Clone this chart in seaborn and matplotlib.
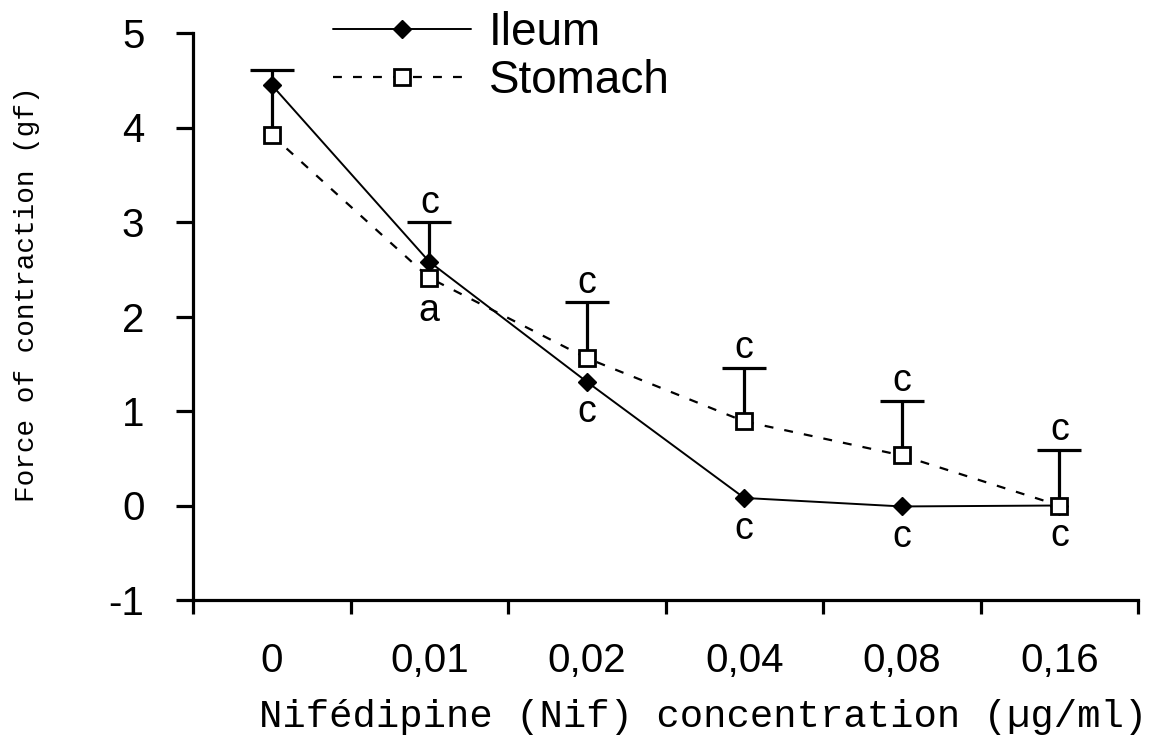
import numpy as np
import pandas as pd
import matplotlib
matplotlib.use("Agg")
import matplotlib.pyplot as plt
from matplotlib.lines import Line2D
from matplotlib.ticker import FixedLocator
import seaborn as sns

# Nifedipine concentrations (µg/ml) and mean force of contraction (gf)
concentrations = ["0", "0,01", "0,02", "0,04", "0,08", "0,16"]
ileum_force = [4.45, 2.58, 1.31, 0.08, -0.01, 0.00]
stomach_force = [3.92, 2.41, 1.56, 0.89, 0.53, 0.00]
stomach_sem = [0.69, 0.59, 0.59, 0.57, 0.58, 0.59]

# Significance letters
sig_above_stomach = ["", "c", "c", "c", "c", "c"]
sig_below_stomach = ["", "a", "", "", "", ""]
sig_below_ileum = ["", "", "c", "c", "c", "c"]

sns.set_theme(style="white")
plt.rcParams["font.family"] = ["Liberation Sans", "DejaVu Sans"]
plt.rcParams["axes.unicode_minus"] = False
plt.rcParams["text.color"] = "black"
plt.rcParams["axes.labelcolor"] = "black"
plt.rcParams["xtick.color"] = "black"
plt.rcParams["ytick.color"] = "black"

fig = plt.figure(figsize=(11.55, 7.42), dpi=100)
ax = fig.add_axes([193 / 1155, 1 - 600 / 742, 945 / 1155, 567 / 742])

pos = np.arange(len(concentrations))
df = pd.DataFrame({
    "pos": np.concatenate([pos, pos]),
    "force": ileum_force + stomach_force,
    "tissue": ["Ileum"] * len(pos) + ["Stomach"] * len(pos),
})

n_before = len(ax.lines)
sns.lineplot(
    data=df, x="pos", y="force", hue="tissue", style="tissue",
    palette={"Ileum": "black", "Stomach": "black"},
    markers={"Ileum": "D", "Stomach": "s"},
    dashes={"Ileum": "", "Stomach": (4, 5)},
    linewidth=1.4, ax=ax, zorder=3, legend=False,
)
data_lines = [l for l in ax.lines[n_before:] if len(l.get_xdata()) == len(pos)]
ileum_line, stomach_line = data_lines[0], data_lines[1]
ileum_line.set(marker="D", markersize=9, markerfacecolor="black",
               markeredgecolor="black", markeredgewidth=1)
stomach_line.set(marker="s", markersize=11, markerfacecolor="white",
                 markeredgecolor="black", markeredgewidth=2, linewidth=1.6)

# Upward-only SEM bars for the stomach series
eb = ax.errorbar(pos, stomach_force, yerr=[np.zeros(len(pos)), stomach_sem],
                 fmt="none", ecolor="black", elinewidth=2.3, capsize=16,
                 capthick=2.3, zorder=2)
eb[1][0].set_visible(False)

# Significance letters
letter_size = 27
for i in pos:
    if sig_above_stomach[i]:
        ax.text(i, stomach_force[i] + stomach_sem[i] + 0.1, sig_above_stomach[i],
                ha="center", va="baseline", fontsize=letter_size, color="black")
    if sig_below_stomach[i]:
        ax.text(i, stomach_force[i] - 0.46, sig_below_stomach[i],
                ha="center", va="baseline", fontsize=letter_size, color="black")
    if sig_below_ileum[i]:
        ax.text(i, ileum_force[i] - 0.43, sig_below_ileum[i],
                ha="center", va="baseline", fontsize=letter_size, color="black")

# Axes
ax.set_xlim(-0.5, len(pos) - 0.5)
ax.set_ylim(-1, 5)
ax.set_yticks(range(-1, 6))
ax.set_yticklabels([str(v) for v in range(-1, 6)])
ax.set_xticks(pos)
ax.set_xticklabels(concentrations)
ax.xaxis.set_minor_locator(FixedLocator(np.arange(-0.5, len(pos), 1.0)))

for side in ["top", "right"]:
    ax.spines[side].set_visible(False)
for side in ["left", "bottom"]:
    ax.spines[side].set_linewidth(2.3)
    ax.spines[side].set_color("black")

ax.tick_params(axis="y", which="major", direction="out", length=12, width=2.3,
               labelsize=29, pad=23, colors="black", left=True)
ax.tick_params(axis="x", which="major", length=0, labelsize=29, pad=30,
               colors="black")
ax.tick_params(axis="x", which="minor", direction="out", length=10, width=2.3,
               bottom=True, colors="black")
ax.grid(False)

ax.set_xlabel("Nifédipine (Nif) concentration (µg/ml)",
              family=["Liberation Mono", "DejaVu Sans Mono"], fontsize=28,
              color="black")
ax.set_ylabel("Force of contraction (gf)",
              family=["Liberation Mono", "DejaVu Sans Mono"], fontsize=20,
              color="black")
ax.xaxis.set_label_coords(0.54, -0.175)
ax.yaxis.set_label_coords(-0.162, 0.54)

handles = [
    Line2D([], [], color="black", linewidth=1.4, marker="D", markersize=9,
           markerfacecolor="black", markeredgecolor="black"),
    Line2D([], [], color="black", linewidth=1.6, linestyle=(0, (4, 5)),
           marker="s", markersize=11, markerfacecolor="white",
           markeredgecolor="black", markeredgewidth=2),
]
fig.legend(handles, ["Ileum", "Stomach"], loc="upper left",
           bbox_to_anchor=(333 / 1155, 0.985), frameon=False, fontsize=33,
           handlelength=3.0, handletextpad=0.4, labelspacing=0.08,
           borderpad=0, borderaxespad=0)

fig.savefig("out.png", dpi=100)
